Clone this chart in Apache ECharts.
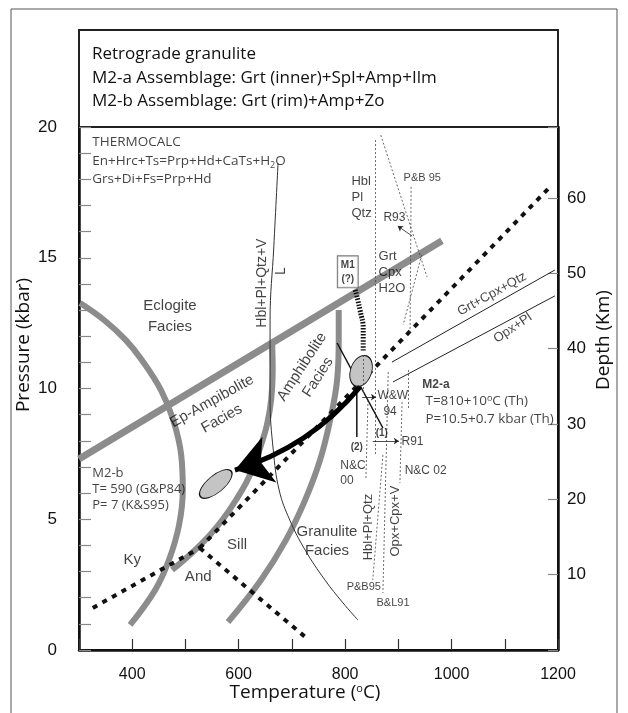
<!DOCTYPE html>
<html><head><meta charset="utf-8">
<script src="https://cdn.jsdelivr.net/npm/echarts@6/dist/echarts.min.js"></script>
<style>html,body{margin:0;padding:0;background:#fff}#c{width:628px;height:713px}</style>
</head><body><div id="c"></div>
<script>
// ---- tick labels ----
const xTickLabels = [400, 600, 800, 1000, 1200];
const yTickLabels = [0, 5, 10, 15, 20];
const depthTickLabels = [10, 20, 30, 40, 50, 60];
const kmPerKbar = 3.47;

// ---- boundaries (T degC, P kbar) ----
const eclogiteBoundary = [[300, 7.3], [982, 15.65]];
const eclogiteArc = [[302, 13.27], [347, 12.62], [388, 11.85], [418, 11.09], [454, 9.94], [477, 8.80], [492, 7.46], [495, 6.12], [488, 4.78], [469, 3.44], [443, 2.29], [396, 0.96]];
const epAmphBoundary = [[663, 11.66], [664, 10.71], [661, 9.56], [653, 8.60], [642, 7.84], [629, 7.07], [614, 6.39], [595, 5.74], [572, 5.05], [546, 4.40], [512, 3.71], [475, 3.06]];
const amphGranBoundary = [[788, 13.00], [788, 11.85], [785, 10.33], [772, 8.80], [753, 7.27], [725, 5.74], [689, 4.21], [642, 2.68], [580, 1.07]];
const solidusL = [[674, 18.62], [666, 15.41], [659, 12.62], [659, 9.56], [665, 7.65], [676, 6.12], [696, 4.97], [725, 3.82], [762, 2.68], [796, 1.80], [824, 1.15]];
const kyAnd = [[326, 1.61], [527, 3.90]];
const kySil = [[527, 3.90], [1185, 17.71]];
const andSil = [[527, 3.90], [732, 0.38]];
const retroPath = [[828, 10.06], [593, 6.88]];
const m1Path = [[819, 13.77], [828, 13.00], [834, 12.24], [834, 11.40]];
const m2a = [830, 10.67];
const m2b = [557, 6.35];
const line1 = [[785, 11.74], [871, 8.49]];
const line2 = [[822, 10.06], [822, 8.15]];
const grtCpxQtz = [[888, 11.01], [1194, 14.53]];
const opxPl = [[890, 10.25], [1194, 13.54]];
const dottedLines = [
  [[856, 19.5], [856, 7.46]],
  [[871, 7.46], [852, 2.68]],
  [[881, 10.63], [871, 2.18]],
  [[907, 9.48], [903, 6.39]],
  [[843, 9.56], [839, 6.5]],
  [[918, 10.71], [918, 9.18]],
  [[924, 17.71], [922, 12.05]],
  [[944, 15.11], [909, 12.43]],
  [[834, 11.28], [834, 9.75]],
  [[867, 19.69], [954, 14.26]]
];
const smallArrows = [
  [[832, 9.67], [858, 9.67]],
  [[852, 7.99], [901, 7.99]],
  [[926, 15.83], [899, 16.21]]
];

// ---- annotations: [T, P, text] ----
const annotations = [
  [471, 12.75, 'Eclogite\nFacies'],
  [559, 9.18, 'Ep-Ampibolite\nFacies'],
  [734, 10.63, 'Amphibolite\nFacies'],
  [766, 4.17, 'Granulite\nFacies'],
  [597, 4.02, 'Sill'],
  [400, 3.44, 'Ky'],
  [524, 2.79, 'And'],
  [680, 14.49, 'L'],
  [644, 14.03, 'Hbl+Pl+Qtz+V'],
  [805, 14.46, '{b|M1}\n{b|(?)}'],
  [811, 17.32, 'Hbl\nPl\nQtz'],
  [862, 14.42, 'Grt\nCpx\nH2O'],
  [909, 18.05, 'P&B 95'],
  [871, 16.52, 'R93'],
  [324, 18.70, 'THERMOCALC\nEn+Hrc+Ts=Prp+Hd+CaTs+H{sub|2}O\nGrs+Di+Fs=Prp+Hd'],
  [324, 6.16, 'M2-b\nT= 590 (G&P84)\nP= 7 (K&S95)'],
  [944, 10.13, 'M2-a'],
  [950, 9.52, 'T=810+10{sup|o}C (Th)'],
  [950, 8.83, 'P=10.5+0.7 kbar (Th)'],
  [860, 9.71, 'W&W'],
  [871, 9.10, '94'],
  [869, 8.30, '(1)'],
  [822, 7.76, '(2)'],
  [905, 7.95, 'R91'],
  [790, 6.77, 'N&C\n00'],
  [911, 6.85, 'N&C 02'],
  [843, 4.70, 'Hbl+Pl+Qtz'],
  [894, 4.93, 'Opx+Cpx+V'],
  [802, 2.41, 'P&B95'],
  [858, 1.80, 'B&L91'],
  [1076, 13.61, 'Grt+Cpx+Qtz'],
  [1115, 12.31, 'Opx+Pl']
];

// ---- styles (kept separate from the data) ----
const NARROW = '"Liberation Sans Narrow","Liberation Sans",Arial,sans-serif';
const MYRIAD = '"Open Sans","Noto Sans",sans-serif';
const rich = {
  sub: {fontSize: 9, verticalAlign: 'bottom', padding: [6, 0, 0, 0], fontFamily: MYRIAD, color: '#111'},
  sup: {fontSize: 9, verticalAlign: 'top', padding: [0, 0, 6, 0], fontFamily: MYRIAD, color: '#111'},
  b: {fontSize: 10, fontWeight: 'bold', fontFamily: '"Liberation Sans",Arial', color: '#111', lineHeight: 14}
};
const C = {position: 'inside', align: 'center', verticalAlign: 'middle'};
const Lft = {position: 'right', distance: 0, align: 'left', verticalAlign: 'middle'};
const annotationStyles = [
  {...C, fontSize: 15, lineHeight: 21, fontFamily: NARROW},
  {...C, fontSize: 15, lineHeight: 20, fontFamily: NARROW, rotate: 29},
  {...C, fontSize: 15, lineHeight: 19, fontFamily: NARROW, rotate: 57},
  {...C, fontSize: 15, lineHeight: 19, fontFamily: NARROW},
  {...C, fontSize: 15, fontFamily: NARROW},
  {...C, fontSize: 15, fontFamily: NARROW},
  {...C, fontSize: 15, fontFamily: NARROW},
  {...C, fontSize: 14, fontFamily: NARROW, rotate: 90},
  {...C, fontSize: 14, fontFamily: NARROW, rotate: 90},
  {...C, borderColor: '#555', borderWidth: 1, padding: [2, 3, 1, 3], backgroundColor: '#fff'},
  {...Lft, fontSize: 13, lineHeight: 16, fontFamily: NARROW},
  {...Lft, fontSize: 13, lineHeight: 16, fontFamily: NARROW},
  {...Lft, fontSize: 11, fontFamily: NARROW},
  {...Lft, fontSize: 12, fontFamily: NARROW},
  {...Lft, fontSize: 13.5, lineHeight: 18.5, fontFamily: MYRIAD},
  {...Lft, fontSize: 13, lineHeight: 16, fontFamily: MYRIAD},
  {...Lft, fontSize: 12, fontWeight: 'bold', fontFamily: '"Liberation Sans",Arial'},
  {...Lft, fontSize: 13.5, fontFamily: MYRIAD},
  {...Lft, fontSize: 13.5, fontFamily: MYRIAD},
  {...Lft, fontSize: 12, fontFamily: NARROW},
  {...Lft, fontSize: 12, fontFamily: NARROW},
  {...C, fontSize: 10, fontWeight: 'bold', fontFamily: '"Liberation Sans",Arial'},
  {...C, fontSize: 10, fontWeight: 'bold', fontFamily: '"Liberation Sans",Arial'},
  {...Lft, fontSize: 12, fontFamily: NARROW},
  {...Lft, fontSize: 12, lineHeight: 15, fontFamily: NARROW},
  {...Lft, fontSize: 12, fontFamily: NARROW},
  {...C, fontSize: 13, fontFamily: NARROW, rotate: 90},
  {...C, fontSize: 13, fontFamily: NARROW, rotate: 90},
  {...Lft, fontSize: 11, fontFamily: NARROW},
  {...Lft, fontSize: 11, fontFamily: NARROW},
  {...C, fontSize: 13, fontFamily: NARROW, rotate: 29},
  {...C, fontSize: 13, fontFamily: NARROW, rotate: 34}
];

const GREY = '#8c8c8c';
function lineSeries(data, style, smooth) {
  return {type: 'line', data: data, smooth: smooth || false, showSymbol: false, symbol: 'none',
    silent: true, lineStyle: style, z: 3};
}

const chart = echarts.init(document.getElementById('c'), null, {renderer: 'canvas'});
const option = {
  animation: false,
  backgroundColor: '#fff',
  grid: {left: 79, right: 70, top: 127, bottom: 63, show: true, borderColor: '#111', borderWidth: 2},
  xAxis: {
    type: 'value', min: 300, max: 1200, interval: 100,
    axisLine: {lineStyle: {color: '#111', width: 2.5}},
    axisTick: {inside: true, length: 11, lineStyle: {color: '#333', width: 1.2}},
    axisLabel: {formatter: v => xTickLabels.includes(v) ? String(v) : '', fontSize: 16, color: '#111', margin: 17, fontFamily: '"Liberation Sans",Arial'},
    splitLine: {show: false}
  },
  yAxis: [{
    type: 'value', min: 0, max: 20, interval: 1,
    axisLine: {lineStyle: {color: '#111', width: 2.5}},
    axisTick: {inside: true, length: 12, lineStyle: {color: '#888', width: 1.2}},
    axisLabel: {formatter: v => yTickLabels.includes(v) ? String(v) : '', fontSize: 17, color: '#111', margin: 22, fontFamily: '"Liberation Sans",Arial'},
    splitLine: {show: false}
  }, {
    type: 'value', position: 'right', min: 0, max: 20 * kmPerKbar, interval: 10,
    axisLine: {show: true, lineStyle: {color: '#111', width: 2.5}},
    axisTick: {inside: true, length: 10, lineStyle: {color: '#888', width: 1.2}},
    axisLabel: {formatter: v => depthTickLabels.includes(v) ? String(v) : '', fontSize: 17, color: '#111', margin: 9, fontFamily: '"Liberation Sans",Arial'},
    splitLine: {show: false}
  }],
  graphic: [
    {type: 'rect', shape: {x: 11, y: 9, width: 606, height: 720}, style: {fill: null, stroke: '#555', lineWidth: 1}},
    {type: 'rect', shape: {x: 79, y: 30, width: 479, height: 97}, style: {fill: null, stroke: '#222', lineWidth: 2}},
    {type: 'text', x: 92, y: 54, style: {text: 'Retrograde granulite', fontSize: 17, fontFamily: MYRIAD, fill: '#111', verticalAlign: 'middle'}},
    {type: 'text', x: 92, y: 78, style: {text: 'M2-a Assemblage: Grt (inner)+Spl+Amp+Ilm', fontSize: 17, fontFamily: MYRIAD, fill: '#111', verticalAlign: 'middle'}},
    {type: 'text', x: 92, y: 101, style: {text: 'M2-b Assemblage: Grt (rim)+Amp+Zo', fontSize: 17, fontFamily: MYRIAD, fill: '#111', verticalAlign: 'middle'}},
    {type: 'text', x: 24, y: 345, rotation: Math.PI / 2, style: {text: 'Pressure (kbar)', fontSize: 19, fontFamily: MYRIAD, fill: '#111', align: 'center', verticalAlign: 'middle'}},
    {type: 'text', x: 604, y: 340, rotation: Math.PI / 2, style: {text: 'Depth (Km)', fontSize: 19, fontFamily: MYRIAD, fill: '#111', align: 'center', verticalAlign: 'middle'}},
    {type: 'text', x: 305, y: 693, style: {text: 'Temperature ({s|o}C)', fontSize: 19, fontFamily: MYRIAD, fill: '#111', align: 'center', verticalAlign: 'middle',
      rich: {s: {fontSize: 11, fontFamily: MYRIAD, verticalAlign: 'top', padding: [0, 0, 8, 0]}}}}
  ],
  series: [
    lineSeries(eclogiteArc, {color: GREY, width: 6}, 0.4),
    lineSeries(epAmphBoundary, {color: GREY, width: 6}, 0.4),
    lineSeries(amphGranBoundary, {color: GREY, width: 6}, 0.4),
    lineSeries(eclogiteBoundary, {color: GREY, width: 7}),
    lineSeries(solidusL, {color: '#333', width: 1}, 0.4),
    lineSeries(kyAnd, {color: '#111', width: 4, type: [5, 6]}),
    lineSeries(kySil, {color: '#111', width: 4, type: [5, 6]}),
    lineSeries(andSil, {color: '#111', width: 4, type: [5, 6]}),
    lineSeries(grtCpxQtz, {color: '#222', width: 1}),
    lineSeries(opxPl, {color: '#222', width: 1}),
    lineSeries(line1, {color: '#111', width: 1.5}),
    lineSeries(line2, {color: '#111', width: 1.5}),
    lineSeries(m1Path, {color: '#111', width: 5, type: [1.5, 1.5]}, 0.5),
    {
      type: 'scatter', silent: true, z: 4,
      data: [
        {value: m2a, symbolSize: [21, 32], symbolRotate: -20},
        {value: m2b, symbolSize: [40, 17], symbolRotate: 40}
      ],
      symbol: 'circle', itemStyle: {color: '#c4c4c4', borderColor: '#111', borderWidth: 1, opacity: 1}
    },
    {
      type: 'lines', coordinateSystem: 'cartesian2d', silent: true, z: 5,
      data: dottedLines.map(c => ({coords: c})),
      lineStyle: {color: '#444', width: 0.8, type: [2, 2], opacity: 1}
    },
    {
      type: 'lines', coordinateSystem: 'cartesian2d', silent: true, z: 5,
      data: smallArrows.map(c => ({coords: c})),
      symbol: ['none', 'arrow'], symbolSize: 5,
      lineStyle: {color: '#222', width: 0.8, opacity: 1}
    },
    {
      type: 'lines', coordinateSystem: 'cartesian2d', silent: true, z: 6,
      data: [{coords: retroPath}],
      symbol: ['none', 'arrow'], symbolSize: [28, 36],
      lineStyle: {color: '#000', width: 5, curveness: 0.15, opacity: 1}
    },
    {
      type: 'scatter', silent: true, z: 7, symbolSize: 1,
      itemStyle: {color: 'rgba(0,0,0,0)'},
      data: annotations.map((a, i) => ({
        value: [a[0], a[1]],
        label: Object.assign({show: true, formatter: a[2], color: '#111', rich: rich}, annotationStyles[i])
      }))
    }
  ]
};
chart.setOption(option);
</script></body></html>
